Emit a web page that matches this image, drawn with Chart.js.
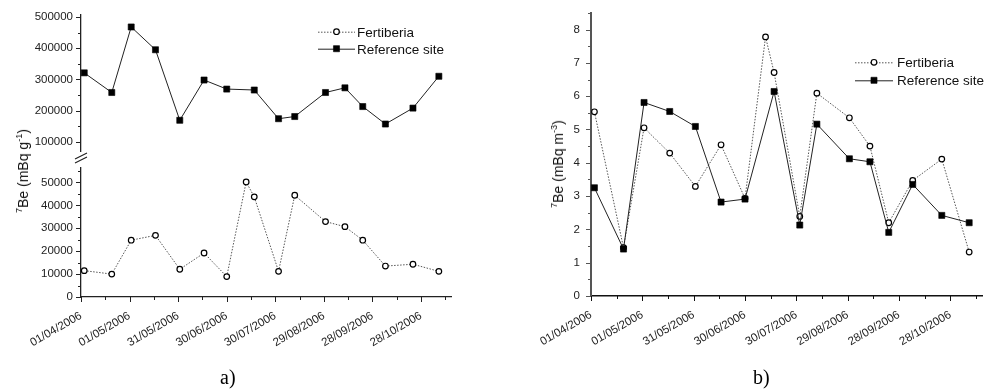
<!DOCTYPE html>
<html><head><meta charset="utf-8">
<script src="https://cdn.jsdelivr.net/npm/chart.js@4.4.1/dist/chart.umd.min.js"></script>
<style>
body{margin:0;background:#fff;width:990px;height:390px;position:relative;overflow:hidden;font-family:'Liberation Sans',Arial,sans-serif;}
canvas{position:absolute;top:0;}
#ca{left:0} #cb{left:495px}
.yt{position:absolute;transform:translate(-50%,-50%) rotate(-90deg);white-space:nowrap;font-size:14px;color:#111;line-height:16px;}
.yt sup{font-size:9px;vertical-align:baseline;position:relative;top:-6px}
.pl{position:absolute;font-family:'Liberation Serif','Times New Roman',serif;font-size:20px;line-height:20px;color:#000}
</style></head><body>
<canvas id="ca" width="495" height="390"></canvas>
<canvas id="cb" width="495" height="390"></canvas>
<div class="yt" style="left:24px;top:171px"><sup>7</sup>Be (mBq g<sup>-1</sup>)</div>
<div class="yt" style="left:559px;top:164px"><sup>7</sup>Be (mBq m<sup>-3</sup>)</div>
<div class="pl" style="left:220px;top:367px">a)</div>
<div class="pl" style="left:753px;top:367px">b)</div>
<script>
// ---- data ----
const fertDates = ['03/04/2006','20/04/2006','02/05/2006','17/05/2006','01/06/2006','16/06/2006','30/06/2006','12/07/2006','17/07/2006','01/08/2006','11/08/2006','30/08/2006','11/09/2006','22/09/2006','06/10/2006','23/10/2006','08/11/2006'];
const refDates  = ['03/04/2006','20/04/2006','02/05/2006','17/05/2006','01/06/2006','16/06/2006','30/06/2006','17/07/2006','01/08/2006','11/08/2006','30/08/2006','11/09/2006','22/09/2006','06/10/2006','23/10/2006','08/11/2006'];
const fertSoil = [11500,10000,24800,26900,12100,19200,8900,50200,43700,11200,44400,32900,30700,24800,13500,14300,11200];
const refSoil  = [321000,258000,468000,395000,169000,298000,269000,266000,174000,181000,258000,273000,213000,157000,208000,310000];
const fertAir  = [5.53,1.45,5.05,4.29,3.29,4.54,2.93,7.78,6.71,2.39,6.09,5.35,4.50,2.20,3.47,4.11,1.32];
const refAir   = [3.25,1.41,5.81,5.54,5.09,2.82,2.91,6.14,2.13,5.16,4.12,4.03,1.91,3.35,2.42,2.20];
const seriesNames = ['Fertiberia','Reference site'];
const soilLowTicks = [0,5000,10000,15000,20000,25000,30000,35000,40000,45000,50000,55000];
const soilUpTicks  = [100000,150000,200000,250000,300000,350000,400000,450000,500000];

const START = Date.UTC(2006,3,1);
function dayOffset(s){const [d,m,y]=s.split('/').map(Number);return Math.round((Date.UTC(y,m-1,d)-START)/86400000);}
function pad(n){return (n<10?'0':'')+n;}
function fmtDay(v){const dt=new Date(START+v*86400000);return pad(dt.getUTCDate())+'/'+pad(dt.getUTCMonth()+1)+'/'+dt.getUTCFullYear();}
function pts(ds,vs){return ds.map((d,i)=>({x:dayOffset(d),y:vs[i]}));}

const FONT = "'Liberation Sans', Arial, sans-serif";

function drawMarker(ctx, ds, x, y){
  ctx.save();
  ctx.setLineDash([]);
  ctx.lineWidth = ds.pointBorderWidth;
  ctx.strokeStyle = ds.pointBorderColor;
  ctx.fillStyle = ds.pointBackgroundColor;
  ctx.beginPath();
  if (ds.pointStyle === 'rect'){
    const s = Math.SQRT1_2*ds.pointRadius;
    ctx.rect(x-s,y-s,2*s,2*s);
  } else {
    ctx.arc(x,y,ds.pointRadius,0,Math.PI*2);
  }
  ctx.fill(); ctx.stroke();
  ctx.restore();
}

const tickPlugin = {
  id:'tickMarks',
  afterDraw(chart){
    const ctx = chart.ctx; ctx.save();
    for (const id in chart.scales){
      const s = chart.scales[id];
      ctx.strokeStyle = s.options.border.color; ctx.lineWidth = 1;
      s.ticks.forEach(t=>{
        const major = t.label !== '' && t.label !== undefined;
        const len = major ? 5 : 3;
        const p = Math.round(s.getPixelForValue(t.value)) + 0.5;
        ctx.beginPath();
        if (s.isHorizontal()){ ctx.moveTo(p, s.top); ctx.lineTo(p, s.top+len); }
        else { ctx.moveTo(s.right-len, p); ctx.lineTo(s.right, p); }
        ctx.stroke();
      });
    }
    ctx.restore();
  }
};

const legendPlugin = {
  id:'lineLegend',
  afterDraw(chart, args, opts){
    const ctx = chart.ctx; ctx.save();
    ctx.font = '13.5px ' + FONT;
    ctx.textBaseline = 'alphabetic'; ctx.fillStyle = '#111';
    opts.items.forEach(it=>{
      const ds = chart.data.datasets[it.ds];
      ctx.strokeStyle = ds.borderColor; ctx.lineWidth = ds.borderWidth;
      ctx.setLineDash(ds.borderDash || []);
      ctx.beginPath(); ctx.moveTo(opts.x0, it.y+0.5); ctx.lineTo(opts.x1, it.y+0.5); ctx.stroke();
      ctx.setLineDash([]);
      drawMarker(ctx, ds, (opts.x0+opts.x1)/2, it.y);
      ctx.fillText(ds.label, opts.tx, it.y + 5);
    });
    ctx.restore();
  }
};

const breakPlugin = {
  id:'axisBreak',
  afterDraw(chart, args, opts){
    if (!opts.on) return;
    const ctx = chart.ctx; ctx.save();
    const x = chart.chartArea.left;
    ctx.fillStyle = '#fff';
    ctx.fillRect(x-2, 152, 4, 15);
    ctx.strokeStyle = '#222'; ctx.lineWidth = 1.1;
    ctx.beginPath();
    ctx.moveTo(x-6, 159); ctx.lineTo(x+6, 153);
    ctx.moveTo(x-6, 163); ctx.lineTo(x+6, 157);
    ctx.stroke();
    ctx.restore();
  }
};

function refStyle(label, data, yId){
  return {label, data, yAxisID:yId, borderColor:'#222', borderWidth:1, pointStyle:'rect',
    pointRadius:4.3, pointBackgroundColor:'#000', pointBorderColor:'#000', pointBorderWidth:0.6,
    tension:0, fill:false};
}
function fertStyle(label, data, yId){
  return {label, data, yAxisID:yId, borderColor:'#555', borderWidth:1, borderDash:[1.5,1.5], pointStyle:'circle',
    pointRadius:2.8, pointBackgroundColor:'#fff', pointBorderColor:'#000', pointBorderWidth:1.2,
    tension:0, fill:false};
}

function xScale(h, color, width){
  return {type:'linear', position:'bottom', min:0, max:228.5,
    grid:{display:false, drawTicks:true, tickLength:5},
    border:{display:true, color, width},
    ticks:{stepSize:15, autoSkip:false, includeBounds:false, minRotation:30, maxRotation:30, padding:7,
      color:'#222', font:{family:FONT, size:11.5},
      callback:v => (Math.round(v)%30===0 ? fmtDay(Math.round(v)) : '')},
    afterFit:s=>{s.height=h;}};
}

Chart.defaults.animation = false;

new Chart(document.getElementById('ca'), {
  type:'line',
  data:{datasets:[
    refStyle(seriesNames[1], pts(refDates, refSoil), 'yUp'),
    fertStyle(seriesNames[0], pts(fertDates, fertSoil), 'yLow')
  ]},
  options:{
    responsive:false, animation:false, clip:false,
    layout:{padding:{left:0, top:15, right:44, bottom:0}},
    plugins:{legend:{display:false}, tooltip:{enabled:false},
      lineLegend:{x0:318, x1:355, tx:357, items:[{ds:1, y:31.7},{ds:0, y:48.7}]},
      axisBreak:{on:true}},
    scales:{
      x: xScale(93, '#222', 1.3),
      yLow:{type:'linear', position:'left', stack:'a', stackWeight:140, min:0, max:61100,
        grid:{display:false, drawTicks:true, tickLength:5}, border:{display:true, color:'#222', width:1.3},
        ticks:{autoSkip:false, padding:3, color:'#222', font:{family:FONT, size:11.5},
          callback:v => (v%10000===0 ? String(v) : '')},
        afterBuildTicks:s=>{s.ticks = soilLowTicks.map(v=>({value:v}));},
        afterFit:s=>{s.width=81;}},
      yUp:{type:'linear', position:'left', stack:'a', stackWeight:142, min:51300, max:506400,
        grid:{display:false, drawTicks:true, tickLength:5}, border:{display:true, color:'#222', width:1.3},
        ticks:{autoSkip:false, padding:3, color:'#222', font:{family:FONT, size:11.5},
          callback:v => (v%100000===0 ? String(v) : '')},
        afterBuildTicks:s=>{s.ticks = soilUpTicks.map(v=>({value:v}));},
        afterFit:s=>{s.width=81;}}
    }
  },
  plugins:[tickPlugin, legendPlugin, breakPlugin]
});

new Chart(document.getElementById('cb'), {
  type:'line',
  data:{datasets:[
    refStyle(seriesNames[1], pts(refDates, refAir), 'y'),
    fertStyle(seriesNames[0], pts(fertDates, fertAir), 'y')
  ]},
  options:{
    responsive:false, animation:false, clip:false,
    layout:{padding:{left:0, top:10, right:2, bottom:0}},
    plugins:{legend:{display:false}, tooltip:{enabled:false},
      lineLegend:{x0:360, x1:398, tx:402, items:[{ds:1, y:62.3},{ds:0, y:80.3}]},
      axisBreak:{on:false}},
    scales:{
      x: xScale(94, '#111', 1.5),
      y:{type:'linear', position:'left', min:0, max:8.5,
        grid:{display:false, drawTicks:true, tickLength:5}, border:{display:true, color:'#555', width:2},
        ticks:{stepSize:0.5, autoSkip:false, includeBounds:false, padding:6, color:'#222', font:{family:FONT, size:11.5},
          callback:v => (Math.abs(v-Math.round(v))<1e-9 ? String(Math.round(v)) : '')},
        afterFit:s=>{s.width=96;}}
    }
  },
  plugins:[tickPlugin, legendPlugin, breakPlugin]
});
</script>
</body></html>
